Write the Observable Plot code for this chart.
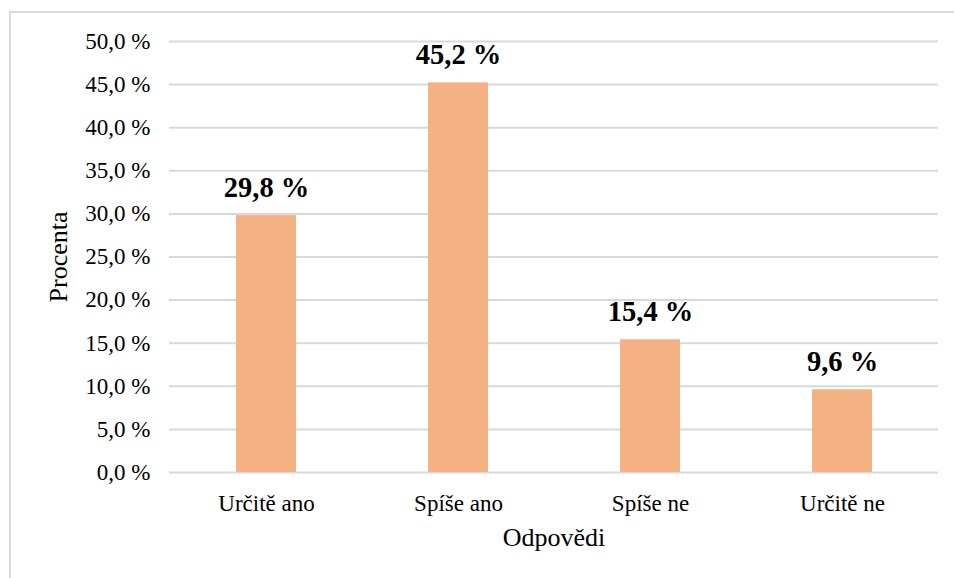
<!DOCTYPE html>
<html>
<head>
<meta charset="utf-8">
<script src="https://cdn.jsdelivr.net/npm/d3@7"></script>
<script src="https://cdn.jsdelivr.net/npm/@observablehq/plot@0.6"></script>
<style>
  html, body { margin: 0; padding: 0; background: #fff; overflow: hidden; }
  #wrap { position: relative; width: 954px; height: 578px; overflow: hidden; }
  #border { position: absolute; left: 9px; top: 11px; width: 980px; height: 600px;
            border: 2px solid #d9d9d9; box-sizing: border-box; pointer-events: none; }
  #chart { position: absolute; left: 0; top: 0; }
  #chart svg, #chart svg text { font-family: "Liberation Serif", "Times New Roman", serif !important; }
</style>
</head>
<body>
<div id="wrap"><div id="border"></div><div id="chart"></div></div>
<script>
// Survey answers and their shares in percent
const categories = ["Určitě ano", "Spíše ano", "Spíše ne", "Určitě ne"];
const percents = [29.8, 45.2, 15.4, 9.6];
const yTicks = [0, 5, 10, 15, 20, 25, 30, 35, 40, 45, 50];

const rows = categories.map((c, i) => ({answer: c, pct: percents[i]}));
const fmt = (v) => v.toFixed(1).replace(".", ",") + " %";
const serif = "Liberation Serif";

const chart = Plot.plot({
  width: 954,
  height: 578,
  marginLeft: 169,
  marginRight: 16,
  marginTop: 41,
  marginBottom: 106,
  style: {fontSize: "23px", color: "#000", background: "transparent"},
  x: {domain: categories, paddingInner: 0.6875, paddingOuter: 0.34375, label: null},
  y: {domain: [0, 50], label: null},
  marks: [
    Plot.ruleY(yTicks, {stroke: "#d9d9d9", strokeWidth: 2}),
    Plot.barY(rows, {x: "answer", y: "pct", fill: "#F4B183"}),
    Plot.text(rows, {
      x: "answer", y: "pct", text: (d) => fmt(d.pct),
      dy: -28, lineAnchor: "middle", fontWeight: "bold", fontSize: 28.5, fontFamily: serif, fill: "#000"
    }),
    Plot.axisY({ticks: yTicks, tickFormat: fmt, tickSize: 0, tickPadding: 19, label: null, fontSize: 23, fontFamily: serif}),
    Plot.axisX({tickSize: 0, tickPadding: 22, label: null, fontSize: 23, fontFamily: serif}),
    Plot.text(["Odpovědi"], {frameAnchor: "bottom", dy: 65, lineAnchor: "middle", textAnchor: "middle", fontSize: 26, fontFamily: serif, fill: "#000"}),
    Plot.text(["Procenta"], {frameAnchor: "left", dx: -111, rotate: -90, lineAnchor: "middle", textAnchor: "middle", fontSize: 26, fontFamily: serif, fill: "#000"})
  ]
});
document.getElementById("chart").appendChild(chart);
</script>
</body>
</html>
